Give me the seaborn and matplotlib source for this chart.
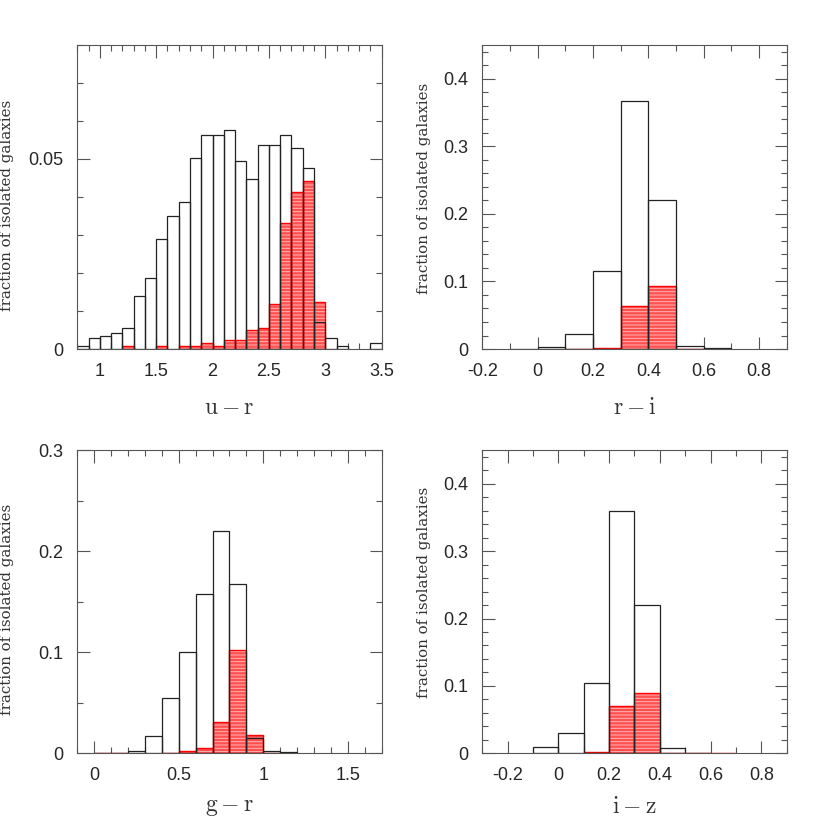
import numpy as np
import pandas as pd
import matplotlib
matplotlib.use("Agg")
import matplotlib.pyplot as plt
from matplotlib.ticker import MultipleLocator, FuncFormatter
import seaborn as sns

# -----------------------------------------------------------------------------
# Data: lower bin edges (width 0.1) and fractions
# "all" = every isolated galaxy, "red" = the red (hatched) subsample
# -----------------------------------------------------------------------------
ur_bins = np.round(np.arange(0.8, 3.45, 0.1), 2)
ur_all = [0.0007, 0.0028, 0.0035, 0.0041, 0.0056, 0.0139, 0.0186, 0.0290, 0.0351,
          0.0387, 0.0502, 0.0564, 0.0564, 0.0577, 0.0496, 0.0447, 0.0537, 0.0537,
          0.0564, 0.0530, 0.0475, 0.0071, 0.0028, 0.0008, 0.0, 0.0, 0.0015]
ur_red = [0.0, 0.0, 0.0, 0.0, 0.0007, 0.0, 0.0, 0.0007, 0.0, 0.0007, 0.0007,
          0.0016, 0.0007, 0.0023, 0.0023, 0.0050, 0.0056, 0.0118, 0.0332, 0.0414,
          0.0442, 0.0125, 0.0, 0.0, 0.0, 0.0, 0.0]

ri_bins = np.round(np.arange(-0.2, 0.85, 0.1), 2)
ri_all = [0.0, 0.0004, 0.0025, 0.0217, 0.116, 0.3675, 0.220, 0.004, 0.001, 0.0, 0.0]
ri_red = [0.0, 0.0, 0.0, 0.0005, 0.002, 0.0639, 0.0936, 0.0005, 0.0005, 0.0, 0.0]

gr_bins = np.round(np.arange(-0.1, 1.65, 0.1), 2)
gr_all = [0.0, 0.0007, 0.0007, 0.0026, 0.0171, 0.0548, 0.100, 0.158, 0.220, 0.1676,
          0.0148, 0.0023, 0.001, 0.0, 0.0, 0.0, 0.0, 0.0]
gr_red = [0.0, 0.0003, 0.0003, 0.0, 0.0, 0.0003, 0.0023, 0.005, 0.0313, 0.1023,
          0.0181, 0.0003, 0.0, 0.0, 0.0, 0.0, 0.0, 0.0]

iz_bins = np.round(np.arange(-0.3, 0.85, 0.1), 2)
iz_all = [0.0, 0.0, 0.0089, 0.0297, 0.1045, 0.3595, 0.2204, 0.0084, 0.001, 0.0, 0.0, 0.0]
iz_red = [0.0, 0.0, 0.0, 0.0, 0.0015, 0.0698, 0.0896, 0.0005, 0.0005, 0.0003, 0.0, 0.0]

# -----------------------------------------------------------------------------
# Style
# -----------------------------------------------------------------------------
sns.set_style("ticks")
plt.rcParams["font.family"] = ["Liberation Sans", "DejaVu Sans"]
plt.rcParams["mathtext.fontset"] = "cm"
plt.rcParams["axes.unicode_minus"] = False
plt.rcParams["axes.edgecolor"] = "#555555"
plt.rcParams["axes.linewidth"] = 0.8
plt.rcParams["hatch.linewidth"] = 0.7

fig = plt.figure(figsize=(8.3, 8.3), dpi=100)


def panel(rect, bins, all_vals, red_vals, xlim, ylim, xmaj, ymaj, ymin, xlabel,
          ylab_xy, xlab_y):
    ax = fig.add_axes(rect)
    edges = list(np.round(np.append(bins, bins[-1] + 0.1), 2))
    df = pd.DataFrame({"color": np.asarray(bins) + 0.05,
                       "all": all_vals, "red": red_vals})

    # red subsample: hatched fill, then its red outline
    sns.histplot(data=df, x="color", weights="red", bins=edges, ax=ax, fill=True,
                 facecolor="#ff5050", edgecolor="#ffb4b4", linewidth=0,
                 hatch="-----", alpha=1)
    sns.histplot(data=df, x="color", weights="red", bins=edges, ax=ax, fill=False,
                 color="red", linewidth=1.0)
    # all isolated galaxies: open black bars
    sns.histplot(data=df, x="color", weights="all", bins=edges, ax=ax, fill=False,
                 color="#222222", linewidth=0.9)

    for p in list(ax.patches):
        if p.get_height() == 0:
            p.remove()

    ax.set_xlim(*xlim)
    ax.set_ylim(*ylim)
    ax.xaxis.set_major_locator(MultipleLocator(xmaj))
    ax.xaxis.set_minor_locator(MultipleLocator(0.1))
    ax.yaxis.set_major_locator(MultipleLocator(ymaj))
    ax.yaxis.set_minor_locator(MultipleLocator(ymin))
    fmt = FuncFormatter(lambda v, p: "%g" % round(v, 6))
    ax.xaxis.set_major_formatter(fmt)
    ax.yaxis.set_major_formatter(fmt)

    ax.tick_params(which="both", direction="in", top=True, right=True,
                   color="#555555", width=0.8)
    ax.tick_params(which="major", length=9, pad=10, labelsize=13)
    ax.tick_params(which="minor", length=4.5)

    ax.set_xlabel(r"$\mathrm{" + xlabel + "}$", fontsize=17, color="#333333")
    ax.xaxis.set_label_coords(0.5, xlab_y)
    ax.set_ylabel("fraction of isolated galaxies", family="DejaVu Serif",
                  fontsize=10.8, color="#333333")
    ax.yaxis.set_label_coords(*ylab_xy)
    return ax


panel([0.0931, 0.5795, 0.3667, 0.3663], ur_bins, ur_all, ur_red,
      (0.8, 3.5), (0, 0.08), 0.5, 0.05, 0.01, "u-r", (-0.207, 0.474), -0.157)
panel([0.5811, 0.5795, 0.3667, 0.3663], ri_bins, ri_all, ri_red,
      (-0.2, 0.9), (0, 0.45), 0.2, 0.1, 0.02, "r-i", (-0.1685, 0.529), -0.157)
panel([0.0931, 0.0924, 0.3667, 0.3654], gr_bins, gr_all, gr_red,
      (-0.1, 1.7), (0, 0.3), 0.5, 0.1, 0.05, "g-r", (-0.207, 0.474), -0.142)
panel([0.5811, 0.0924, 0.3667, 0.3654], iz_bins, iz_all, iz_red,
      (-0.3, 0.9), (0, 0.45), 0.2, 0.1, 0.02, "i-z", (-0.1685, 0.529), -0.142)

fig.savefig("out.png", dpi=100)
plt.close(fig)
